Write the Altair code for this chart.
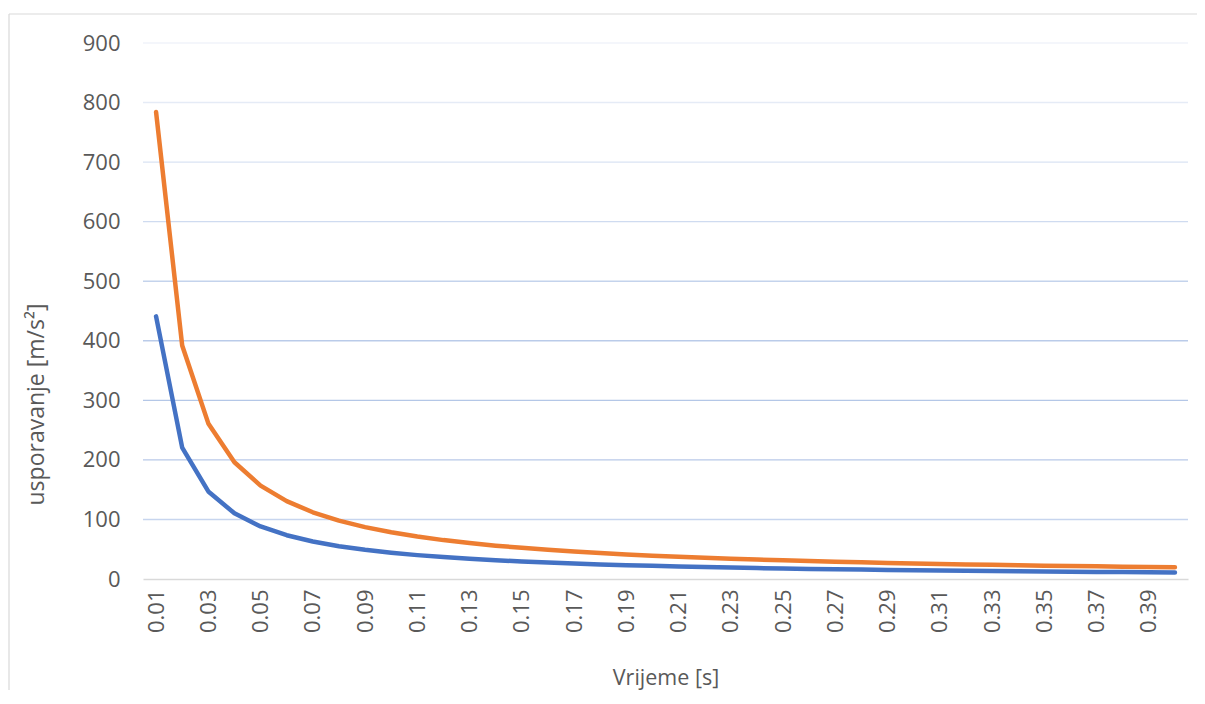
import altair as alt
import pandas as pd

times = ["0.01", "0.02", "0.03", "0.04", "0.05", "0.06", "0.07", "0.08", "0.09", "0.1",
         "0.11", "0.12", "0.13", "0.14", "0.15", "0.16", "0.17", "0.18", "0.19", "0.2",
         "0.21", "0.22", "0.23", "0.24", "0.25", "0.26", "0.27", "0.28", "0.29", "0.3",
         "0.31", "0.32", "0.33", "0.34", "0.35", "0.36", "0.37", "0.38", "0.39", "0.4"]

blue_vals = [441, 220.5, 147, 110.3, 88.2, 73.5, 63, 55.1, 49, 44.1,
             40.1, 36.8, 33.9, 31.5, 29.4, 27.6, 25.9, 24.5, 23.2, 22.1,
             21, 20.1, 19.2, 18.4, 17.6, 17, 16.3, 15.8, 15.2, 14.7,
             14.2, 13.8, 13.4, 13, 12.6, 12.3, 11.9, 11.6, 11.3, 11]

orange_vals = [784, 392, 261.3, 196, 156.8, 130.7, 112, 98, 87.1, 78.4,
               71.3, 65.3, 60.3, 56, 52.3, 49, 46.1, 43.6, 41.3, 39.2,
               37.3, 35.6, 34.1, 32.7, 31.4, 30.2, 29, 28, 27, 26.1,
               25.3, 24.5, 23.8, 23.1, 22.4, 21.8, 21.2, 20.6, 20.1, 19.6]

series_names = ["s1", "s2"]
y_ticks = [0, 100, 200, 300, 400, 500, 600, 700, 800, 900]
x_label_values = times[::2]

rows = []
for name, vals in zip(series_names, [blue_vals, orange_vals]):
    for t, v in zip(times, vals):
        rows.append({"t": t, "v": v, "s": name})
df = pd.DataFrame(rows)

grid_df = pd.DataFrame({"g": y_ticks[1:]})
grid_colors = ["#C7D5EE", "#B8C9E8", "#B4C7E7", "#BACBE9", "#C4D3EC",
               "#CFDBF0", "#DAE3F3", "#E5EBF6", "#F0F3FA"]

W, H = 1045, 536
FONT = "Open Sans"
TXT = "#595959"

yscale = alt.Scale(domain=[0, 900])
yaxis = alt.Axis(title="usporavanje [m/s²]", values=y_ticks, ticks=False, domain=False,
                 grid=False, labelPadding=23, labelFont=FONT, labelFontSize=22,
                 labelColor=TXT, titleFont=FONT, titleFontSize=23, titleColor=TXT,
                 titleFontWeight="normal", titleAngle=-90, titleBaseline="middle",
                 titleX=-107, titleY=361)

grid = alt.Chart(grid_df).mark_rule(strokeWidth=1.4).encode(
    y=alt.Y("g:Q", scale=yscale, axis=yaxis),
    x=alt.value(0), x2=alt.value(W),
    color=alt.Color("g:O", scale=alt.Scale(domain=y_ticks[1:], range=grid_colors), legend=None),
)

lines = alt.Chart(df).mark_line(strokeWidth=4.5, strokeCap="round", strokeJoin="round").encode(
    x=alt.X("t:O", sort=times, scale=alt.Scale(type="point", padding=0.5),
            axis=alt.Axis(title="Vrijeme [s]", values=x_label_values, labelAngle=-90,
                          ticks=False, domain=True, domainColor="#D9D9D9", domainWidth=1.5,
                          labelPadding=10, labelFont=FONT, labelFontSize=22, labelColor=TXT,
                          titleFont=FONT, titleFontSize=21.5, titleColor=TXT, titleFontWeight="normal",
                          titleBaseline="alphabetic", titleY=105, titleX=W / 2, grid=False)),
    y=alt.Y("v:Q", scale=yscale, axis=yaxis),
    color=alt.Color("s:N", scale=alt.Scale(domain=series_names, range=["#4472C4", "#ED7D31"]),
                    legend=None),
    order=alt.Order("s:N"),
)

frame_top = alt.Chart().mark_rule(color="#D9D9D9", strokeWidth=1.2).encode(
    x=alt.value(-134), x2=alt.value(1070), y=alt.value(-29))
frame_left = alt.Chart().mark_rule(color="#D9D9D9", strokeWidth=1.2).encode(
    x=alt.value(-134), y=alt.value(-29), y2=alt.value(680))

chart = alt.layer(frame_top, frame_left, grid, lines).resolve_scale(
    color="independent"
).properties(
    width=W, height=H,
    background="white",
    autosize=alt.AutoSizeParams(type="none"),
    padding={"left": 135, "top": 35, "right": 9, "bottom": 111},
).configure_view(strokeWidth=0)

chart.save("out.html", embed_options={"renderer": "svg", "actions": False})
